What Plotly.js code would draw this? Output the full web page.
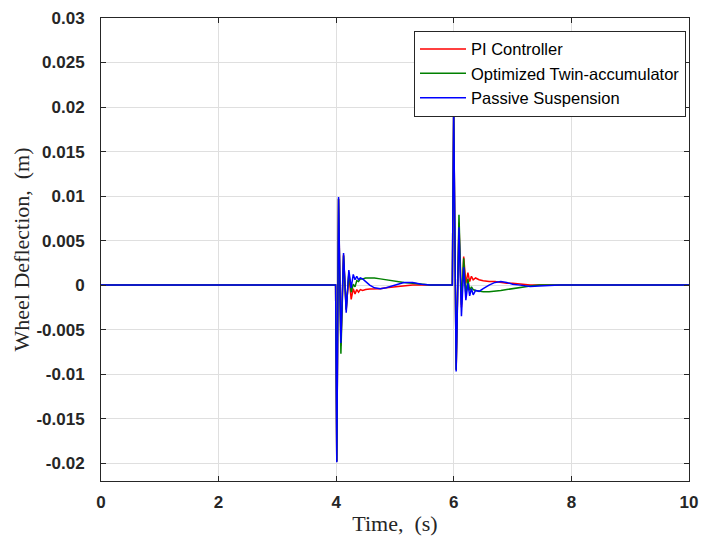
<!DOCTYPE html>
<html>
<head>
<meta charset="utf-8">
<script src="https://cdn.plot.ly/plotly-3.0.1.min.js"></script>
<style>html,body{margin:0;padding:0;background:#fff;}#chart{width:701px;height:539px;}</style>
</head>
<body>
<div id="chart"></div>
<script>
// Time samples (s)
var time = [0, 3.99, 4.01, 4.04, 4.08, 4.125, 4.17, 4.215, 4.255, 4.29, 4.32, 4.35, 4.38, 4.41, 4.45, 4.5, 4.57, 4.65, 4.75, 4.85, 5.0, 5.15, 5.3, 5.45, 5.6, 5.75,
            5.975, 5.998, 6.04, 6.088, 6.13, 6.168, 6.205, 6.24, 6.27, 6.30, 6.33, 6.37, 6.43, 6.5, 6.6, 6.7, 6.8, 6.9, 7.0, 7.13, 7.3, 7.45, 7.64, 7.8, 8.0, 10];

// Wheel deflection (m)
var piController = [0, 0, -0.0198, 0.0097, -0.0068, 0.0034, -0.0028, 0.0012, -0.0016, -0.0004, -0.0010, -0.0005, -0.0008, -0.0005, -0.0006, -0.0005, -0.00045, -0.00045, -0.0004, -0.0003, -0.0002, -0.0001, 0, 0, 0, 0,
                    0, 0.0198, -0.0095, 0.0070, -0.0025, 0.0032, 0.0002, 0.0014, 0.0004, 0.0010, 0.0006, 0.0008, 0.0006, 0.0005, 0.0004, 0.0004, 0.0003, 0.0002, 0.0002, 0.0001, 0, 0, 0, 0, 0, 0];

var twinAccumulator = [0, 0, -0.0198, 0.0097, -0.0077, 0.0033, -0.0027, 0.0014, -0.0008, 0.0001, -0.0002, 0.0005, 0.0004, 0.0007, 0.0007, 0.0008, 0.0008, 0.0008, 0.0007, 0.0006, 0.0004, 0.0003, 0.0002, 0.0001, 0, 0,
                       0, 0.0198, -0.0095, 0.0079, -0.0022, 0.0030, -0.0011, 0.0007, -0.0006, -0.0002, -0.0005, -0.0006, -0.0007, -0.00075, -0.00075, -0.0007, -0.0006, -0.0005, -0.0004, -0.0002, -0.0001, 0, 0, 0, 0, 0];

var passive = [0, 0, -0.0199, 0.0099, -0.0065, 0.0036, -0.0031, 0.0017, -0.0003, 0.0012, 0.0006, 0.0010, 0.0006, 0.0008, 0.0007, 0.0004, 0, -0.0003, -0.0004, -0.0003, 0, 0.0003, 0.0003, 0.0001, 0, 0,
               0, 0.0200, -0.0097, 0.0065, -0.0035, 0.0020, -0.0017, 0.0002, -0.0012, -0.0004, -0.0011, -0.0006, -0.0007, -0.0004, 0, 0.0003, 0.0004, 0.0003, 0.0001, 0, -0.00015, -0.0001, 0, 0, 0, 0];

var seriesNames = ['PI Controller', 'Optimized Twin-accumulator', 'Passive Suspension'];

var xTickVals = [0, 2, 4, 6, 8, 10];
var xTickText = ['0', '2', '4', '6', '8', '10'];
var yTickVals = [-0.02, -0.015, -0.01, -0.005, 0, 0.005, 0.01, 0.015, 0.02, 0.025, 0.03];
var yTickText = ['-0.02', '-0.015', '-0.01', '-0.005', '0', '0.005', '0.01', '0.015', '0.02', '0.025', '0.03'];

var traces = [
  {x: time, y: piController, name: seriesNames[0], type: 'scatter', mode: 'lines', line: {color: '#ff0000', width: 1.5}},
  {x: time, y: twinAccumulator, name: seriesNames[1], type: 'scatter', mode: 'lines', line: {color: '#008000', width: 1.5}},
  {x: time, y: passive, name: seriesNames[2], type: 'scatter', mode: 'lines', line: {color: '#0000ff', width: 1.5}}
];

var axisCommon = {
  showline: true, mirror: 'ticks', linecolor: '#262626', linewidth: 1,
  ticks: 'inside', ticklen: 5, tickcolor: '#262626', tickwidth: 1,
  showgrid: true, gridcolor: '#dfdfdf', gridwidth: 1, zeroline: false,
  tickfont: {family: 'Liberation Sans, Arial, sans-serif', size: 17, color: '#262626', weight: 'bold'}
};

var titleFont = {family: 'Liberation Serif, Times New Roman, serif', size: 22, color: '#262626'};

var layout = {
  width: 701, height: 539,
  margin: {l: 101, r: 12, t: 18, b: 58},
  paper_bgcolor: '#ffffff', plot_bgcolor: '#ffffff',
  showlegend: true,
  xaxis: Object.assign({}, axisCommon, {
    range: [0, 10], tickmode: 'array', tickvals: xTickVals, ticktext: xTickText,
    ticklabelstandoff: 6,
    title: {text: 'Time,  (s)', font: titleFont, standoff: 4}
  }),
  yaxis: Object.assign({}, axisCommon, {
    range: [-0.022, 0.03], tickmode: 'array', tickvals: yTickVals, ticktext: yTickText,
    ticklabelstandoff: 12,
    title: {text: 'Wheel Deflection,  (m)', font: titleFont, standoff: 0}
  }),
  legend: {
    x: 0.9949, y: 0.9726, xanchor: 'right', yanchor: 'top',
    bgcolor: '#ffffff', bordercolor: '#262626', borderwidth: 1,
    font: {family: 'Liberation Sans, Arial, sans-serif', size: 16.5, color: '#000000'},
    itemwidth: 46, tracegroupgap: 0
  }
};

Plotly.newPlot('chart', traces, layout, {displayModeBar: false, staticPlot: true});
</script>
</body>
</html>
